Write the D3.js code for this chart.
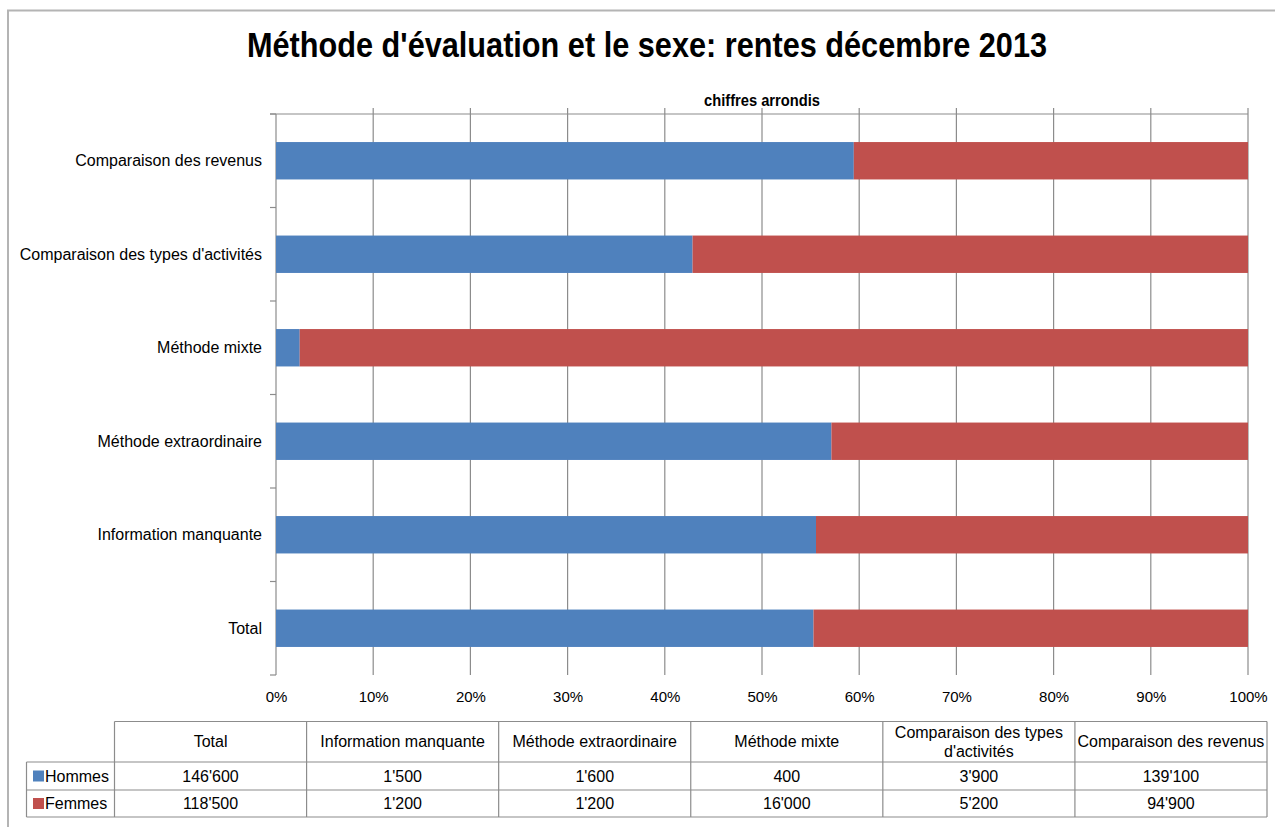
<!DOCTYPE html>
<html>
<head>
<meta charset="utf-8">
<title>Méthode d'évaluation et le sexe</title>
<script src="https://d3js.org/d3.v7.min.js"></script>
<style>
  body { margin: 0; background: #fff; }
  text { font-family: "Liberation Sans", Arial, sans-serif; fill: #000; }
</style>
</head>
<body>
<div id="chart"></div>
<script>

// data, in the order of the table (bottom to top in the chart)
var categories = ["Total", "Information manquante", "Méthode extraordinaire", "Méthode mixte",
                  "Comparaison des types d'activités", "Comparaison des revenus"];
var series = ["Hommes", "Femmes"];
var hommes = [146600, 1500, 1600, 400, 3900, 139100];
var femmes = [118500, 1200, 1200, 16000, 5200, 94900];
var tickValues = [0, 0.1, 0.2, 0.3, 0.4, 0.5, 0.6, 0.7, 0.8, 0.9, 1];

var W = 1275, H = 827;
var plot = {left: 276, right: 1248, top: 114, bottom: 675};
var colors = {Hommes: "#4F81BD", Femmes: "#C0504D"};

var rows = categories.map(function(c, i) {
  return {cat: c, Hommes: hommes[i], Femmes: femmes[i]};
});

var svg = d3.select("#chart").append("svg")
  .attr("width", W).attr("height", H);

// chart frame
svg.append("rect")
  .attr("x", 8).attr("y", 10.5).attr("width", W + 10).attr("height", H + 10)
  .attr("fill", "none").attr("stroke", "#b4b4b4").attr("stroke-width", 2);

// titles (squeezed a bit, the original font is narrower)
svg.append("text")
  .attr("x", 647).attr("y", 57).attr("text-anchor", "middle")
  .attr("textLength", 800).attr("lengthAdjust", "spacingAndGlyphs")
  .style("font-size", "35px").style("font-weight", "bold")
  .text("Méthode d'évaluation et le sexe: rentes décembre 2013");
svg.append("text")
  .attr("x", 762).attr("y", 106).attr("text-anchor", "middle")
  .attr("textLength", 116).attr("lengthAdjust", "spacingAndGlyphs")
  .style("font-size", "16px").style("font-weight", "bold")
  .text("chiffres arrondis");

// scales
var x = d3.scaleLinear().domain([0, 1]).range([plot.left, plot.right]);
var y = d3.scaleBand()
  .domain(categories.slice().reverse())
  .range([plot.top, plot.bottom])
  .paddingInner(0.6).paddingOuter(0.3);

// gridlines (with ticks sticking above the top axis line)
svg.append("g").selectAll("line")
  .data(tickValues.slice(1))
  .enter().append("line")
    .attr("x1", function(d) { return x(d); }).attr("x2", function(d) { return x(d); })
    .attr("y1", plot.top - 6).attr("y2", plot.bottom)
    .attr("stroke", "#8c8c8c").attr("stroke-width", 1.2);

// top value-axis line
svg.append("line")
  .attr("x1", plot.left - 6).attr("x2", plot.right)
  .attr("y1", plot.top).attr("y2", plot.top)
  .attr("stroke", "#8c8c8c").attr("stroke-width", 1.2);

// value labels at the bottom
var xAxis = svg.append("g")
  .attr("transform", "translate(0," + (plot.bottom + 22) + ")")
  .call(d3.axisBottom(x).tickValues(tickValues).tickFormat(d3.format(".0%")).tickSize(0));
xAxis.select(".domain").remove();
xAxis.selectAll("text").style("font-size", "15px").attr("dy", "0.35em").attr("y", 0)
  .style("font-family", "'Liberation Sans', Arial, sans-serif");

// category axis: line + ticks between categories
var bounds = d3.range(categories.length + 1).map(function(i) { return plot.top + i * (plot.bottom - plot.top) / categories.length; });
svg.append("line")
  .attr("x1", plot.left).attr("x2", plot.left)
  .attr("y1", plot.top).attr("y2", plot.bottom)
  .attr("stroke", "#8c8c8c").attr("stroke-width", 1.2);
svg.append("g").selectAll("line")
  .data(bounds)
  .enter().append("line")
    .attr("x1", plot.left - 6).attr("x2", plot.left)
    .attr("y1", function(d) { return d; }).attr("y2", function(d) { return d; })
    .attr("stroke", "#8c8c8c").attr("stroke-width", 1.2);

svg.append("g").selectAll("text")
  .data(categories)
  .enter().append("text")
    .attr("x", plot.left - 14)
    .attr("y", function(d) { return y(d) + y.bandwidth() / 2; })
    .attr("dy", "0.35em").attr("text-anchor", "end")
    .style("font-size", "16px")
    .text(function(d) { return d; });

// stacked 100% bars
var stacked = d3.stack().keys(series).offset(d3.stackOffsetExpand)(rows);
svg.append("g").selectAll("g")
  .data(stacked)
  .enter().append("g")
    .attr("fill", function(d) { return colors[d.key]; })
  .selectAll("rect")
  .data(function(d) { return d; })
  .enter().append("rect")
    .attr("x", function(d) { return x(d[0]); })
    .attr("width", function(d) { return x(d[1]) - x(d[0]); })
    .attr("y", function(d) { return y(d.data.cat); })
    .attr("height", y.bandwidth());

// data table
var tbl = {left: 26.5, labelRight: 114.5, right: 1267, top: 721.5, head: 762, row1: 790, bottom: 817};
var col = d3.scaleBand().domain(categories).range([tbl.labelRight, tbl.right]);
var fmt = function(v) { return d3.format(",")(v).replace(/,/g, "'"); };
var border = "#8c8c8c";
var tg = svg.append("g");

// horizontal lines
tg.append("line").attr("x1", tbl.labelRight).attr("x2", tbl.right).attr("y1", tbl.top).attr("y2", tbl.top);
[tbl.head, tbl.row1, tbl.bottom].forEach(function(yy) {
  tg.append("line").attr("x1", tbl.left).attr("x2", tbl.right).attr("y1", yy).attr("y2", yy);
});
// vertical lines
tg.append("line").attr("x1", tbl.left).attr("x2", tbl.left).attr("y1", tbl.head).attr("y2", tbl.bottom);
categories.forEach(function(c) {
  tg.append("line").attr("x1", col(c)).attr("x2", col(c)).attr("y1", tbl.top).attr("y2", tbl.bottom);
});
tg.append("line").attr("x1", tbl.right).attr("x2", tbl.right).attr("y1", tbl.top).attr("y2", tbl.bottom);
tg.selectAll("line").attr("stroke", border).attr("stroke-width", 1.2);

// header texts (wrap long one)
categories.forEach(function(c) {
  var cx = col(c) + col.bandwidth() / 2;
  var lines = c === "Comparaison des types d'activités" ? ["Comparaison des types", "d'activités"] : [c];
  var t = tg.append("text").attr("text-anchor", "middle").style("font-size", "16px");
  lines.forEach(function(l, i) {
    t.append("tspan").attr("x", cx)
      .attr("y", (tbl.top + tbl.head) / 2 + (i - (lines.length - 1) / 2) * 19)
      .attr("dy", "0.35em").text(l);
  });
});

// series rows
var rowY = {Hommes: (tbl.head + tbl.row1) / 2, Femmes: (tbl.row1 + tbl.bottom) / 2};
var values = {Hommes: hommes, Femmes: femmes};
series.forEach(function(s) {
  tg.append("rect").attr("x", 33).attr("y", rowY[s] - 5.5).attr("width", 11).attr("height", 11)
    .attr("fill", colors[s]);
  tg.append("text").attr("x", 45).attr("y", rowY[s]).attr("dy", "0.35em")
    .style("font-size", "16px").text(s);
  categories.forEach(function(c, i) {
    tg.append("text").attr("x", col(c) + col.bandwidth() / 2).attr("y", rowY[s])
      .attr("dy", "0.35em").attr("text-anchor", "middle")
      .style("font-size", "16px").text(fmt(values[s][i]));
  });
});

</script>
</body>
</html>
